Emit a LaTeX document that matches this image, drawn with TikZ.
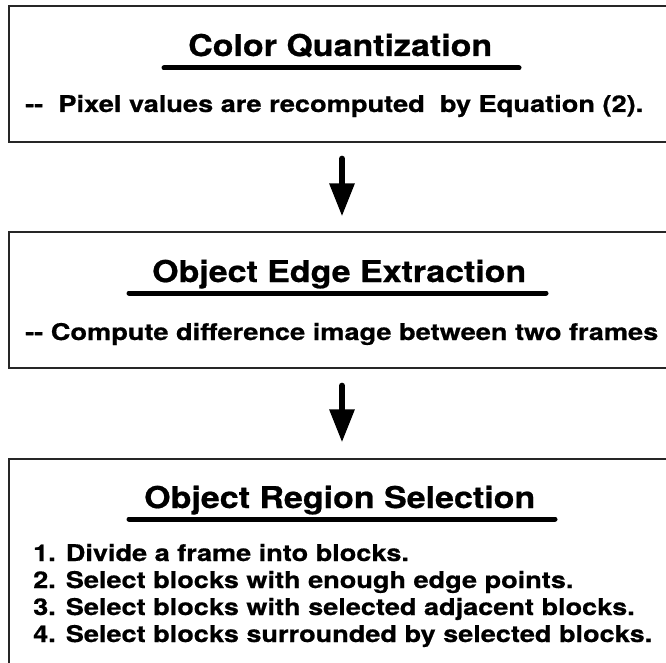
\documentclass[tikz,border=0pt]{standalone}
\usepackage{fontspec}
\setmainfont{TeX Gyre Heros}[BoldFeatures={FakeBold=0.6}]
\usetikzlibrary{arrows.meta}

% horizontally stretched text of a given width, natural height kept
\newcommand{\wide}[2]{\resizebox{#1}{\height}{#2}}

\tikzset{
  stage/.style={draw=black!85, line width=1.3pt, rectangle, inner sep=0pt,
                minimum width=666pt},
  flow/.style={line width=6pt, line cap=round,
               -{Triangle[length=33pt,width=24pt]}},
  heading/.style={anchor=base west, inner sep=0pt,
                  font=\fontsize{30}{34}\selectfont\bfseries},
  remark/.style={anchor=base west, inner sep=0pt,
                 font=\fontsize{23}{27}\selectfont\bfseries},
  underbar/.style={line width=5pt, line cap=round}
}

\begin{document}
\begin{tikzpicture}[x=1pt, y=-1pt]
  \clip (0,0) rectangle (666,663);
  \fill[white] (0,0) rectangle (666,663);

  % the three processing stages
  \node[stage, minimum height=136pt] (quant)  at (342,74)    {};
  \node[stage, minimum height=136pt] (edge)   at (342,300)   {};
  \node[stage, minimum height=221pt] (region) at (342,569.5) {};

  % stage 1
  \node[heading] (quantT) at (188,56) {\wide{304pt}{Color Quantization}};
  \draw[underbar] (164,68) -- (519,68);
  \node[remark] (quantR) at (25,112)
    {\wide{618pt}{-{}-\ \ Pixel values are recomputed\ \ by Equation (2).}};

  % stage 2
  \node[heading] (edgeT) at (152,282) {\wide{374pt}{Object Edge Extraction}};
  \draw[underbar] (129,293) -- (546,293);
  \node[remark] (edgeR) at (25,340)
    {\wide{633pt}{-{}- Compute difference image between two frames}};

  % stage 3
  \node[heading] (regionT) at (144,508) {\wide{391pt}{Object Region Selection}};
  \draw[underbar] (129,519) -- (555,519);
  \node[remark] (regionL) at (33,561)
    {\wide{619pt}{\fontsize{23}{27}\selectfont\bfseries
      \begin{tabular}[t]{@{}l@{}}
        1. Divide a frame into blocks.\\
        2. Select blocks with enough edge points.\\
        3. Select blocks with selected adjacent blocks.\\
        4. Select blocks surrounded by selected blocks.
      \end{tabular}}};

  % flow between stages
  \draw[flow, shorten <=16pt, shorten >=15pt] (quant.south) -- (edge.north);
  \draw[flow, shorten <=17pt, shorten >=16pt] (edge.south) -- (region.north);
\end{tikzpicture}
\end{document}
